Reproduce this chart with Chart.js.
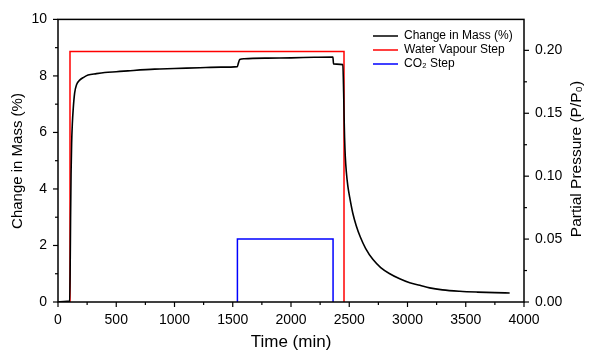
<!DOCTYPE html>
<html><head><meta charset="utf-8">
<script src="https://cdn.jsdelivr.net/npm/chart.js@4.4.1/dist/chart.umd.min.js"></script>
<style>html,body{margin:0;padding:0;background:#fff}#wrap{width:593px;height:357px;position:relative}</style>
</head><body><div id="wrap"><canvas id="c" width="593" height="357"></canvas></div>
<script>
// ---- data ----
const massTime = [0,50,100,104,108,112,117,123,130,143,160,186,220,258,330,401,500,600,830,1000,1218,1400,1540,1548,1560,1600,1800,2000,2200,2360,2365,2445,2452,2456,2460,2466,2475,2488,2504,2530,2560,2595,2640,2704,2770,2848,2933,3019,3106,3190,3300,3448,3600,3750,3877];
const massPct  = [0,0.02,0.03,1.0,3.0,4.5,5.6,6.3,6.8,7.4,7.7,7.85,7.95,8.03,8.08,8.12,8.15,8.18,8.24,8.26,8.29,8.31,8.33,8.45,8.58,8.61,8.63,8.64,8.66,8.67,8.42,8.40,7.4,6.5,5.8,5.15,4.6,4.1,3.7,3.15,2.7,2.3,1.9,1.5,1.22,1.0,0.82,0.68,0.59,0.5,0.43,0.38,0.35,0.33,0.32];
const waterTime = [103,103,2455,2455];
const waterP    = [0,0.199,0.199,0];
const co2Time   = [1540,1540,2361,2361];
const co2P      = [0,0.05,0.05,0];
const xTicks  = [0,500,1000,1500,2000,2500,3000,3500,4000];
const yTicks  = [0,2,4,6,8,10];
const y2Ticks = [0,0.05,0.10,0.15,0.20];
const seriesNames = ['Change in Mass (%)','Water Vapour Step','CO\u2082 Step'];

const FONT = '"Liberation Sans", Arial, sans-serif';
const pts = (xs, ys) => xs.map((x,i)=>({x, y: ys[i]}));

const framePlugin = {
  id: 'frame',
  afterDraw(chart) {
    const {ctx, chartArea: a, scales} = chart;
    ctx.save();
    ctx.strokeStyle = '#000'; ctx.lineWidth = 1.5;
    ctx.strokeRect(a.left, a.top, a.right - a.left, a.bottom - a.top);
    ctx.lineWidth = 1.2;
    const X = scales.x, Y = scales.y, Y2 = scales.y2;
    for (let v = 0; v <= 4000; v += 250) {
      const p = X.getPixelForValue(v), len = (v % 500 === 0) ? 5 : 3;
      ctx.beginPath(); ctx.moveTo(p, a.bottom); ctx.lineTo(p, a.bottom + len); ctx.stroke();
    }
    for (let v = 0; v <= 10; v += 1) {
      const p = Y.getPixelForValue(v), len = (v % 2 === 0) ? 5 : 3;
      ctx.beginPath(); ctx.moveTo(a.left, p); ctx.lineTo(a.left - len, p); ctx.stroke();
    }
    for (let i = 0; i <= 8; i++) {
      const v = i * 0.025, p = Y2.getPixelForValue(v), len = (i % 2 === 0) ? 5 : 3;
      ctx.beginPath(); ctx.moveTo(a.right, p); ctx.lineTo(a.right + len, p); ctx.stroke();
    }
    ctx.fillStyle = '#000'; ctx.textAlign = 'center'; ctx.textBaseline = 'middle';
    ctx.font = '17px ' + FONT;
    ctx.fillText('Time (min)', (a.left + a.right) / 2, 342);
    ctx.save(); ctx.translate(18, 161); ctx.rotate(-Math.PI/2);
    ctx.font = '15px ' + FONT; ctx.fillText('Change in Mass (%)', 0, 0); ctx.restore();
    ctx.save(); ctx.translate(577, 159); ctx.rotate(-Math.PI/2);
    ctx.font = '15.5px ' + FONT; ctx.fillText('Partial Pressure (P/P\u2080)', 0, 0); ctx.restore();
    const cols = ['#000','#ff0000','#0000ff'];
    ctx.font = '12px ' + FONT; ctx.textAlign = 'left';
    seriesNames.forEach((n, i) => {
      const y = 36 + i * 14;
      ctx.strokeStyle = cols[i]; ctx.lineWidth = 1.5;
      ctx.beginPath(); ctx.moveTo(373, y); ctx.lineTo(398, y); ctx.stroke();
      ctx.fillText(n, 404, y);
    });
    ctx.restore();
  }
};

const gridOff = {display: false, drawTicks: false, tickLength: 0};
new Chart(document.getElementById('c'), {
  type: 'line',
  data: {
    datasets: [
      {label: seriesNames[0], data: pts(massTime, massPct), borderColor: '#000', borderWidth: 1.6, pointRadius: 0, yAxisID: 'y', cubicInterpolationMode: 'monotone'},
      {label: seriesNames[1], data: pts(waterTime, waterP), borderColor: '#ff0000', borderWidth: 1.5, pointRadius: 0, yAxisID: 'y2'},
      {label: seriesNames[2], data: pts(co2Time, co2P), borderColor: '#0000ff', borderWidth: 1.5, pointRadius: 0, yAxisID: 'y2'}
    ]
  },
  options: {
    responsive: false, animation: false, devicePixelRatio: 1,
    layout: {padding: {top: 17, left: 0, right: 0, bottom: 0}},
    plugins: {legend: {display: false}, tooltip: {enabled: false}},
    scales: {
      x: {type: 'linear', min: 0, max: 4000,
          afterBuildTicks: s => { s.ticks = xTicks.map(v => ({value: v})); },
          afterFit: s => { s.height = 55; },
          grid: gridOff, border: {display: false},
          ticks: {color: '#000', font: {size: 14, family: FONT}, padding: 10, maxRotation: 0, autoSkip: false, callback: v => String(v)}},
      y: {type: 'linear', position: 'left', min: 0, max: 10,
          afterBuildTicks: s => { s.ticks = yTicks.map(v => ({value: v})); },
          afterFit: s => { s.width = 58; },
          grid: gridOff, border: {display: false},
          ticks: {color: '#000', font: {size: 14, family: FONT}, padding: 11, callback: v => String(v)}},
      y2: {type: 'linear', position: 'right', min: 0, max: 0.2246,
          afterBuildTicks: s => { s.ticks = y2Ticks.map(v => ({value: v})); },
          afterFit: s => { s.width = 69; },
          grid: gridOff, border: {display: false},
          ticks: {color: '#000', font: {size: 14, family: FONT}, padding: 11, callback: v => Number(v).toFixed(2)}}
    }
  },
  plugins: [framePlugin]
});
</script></body></html>
